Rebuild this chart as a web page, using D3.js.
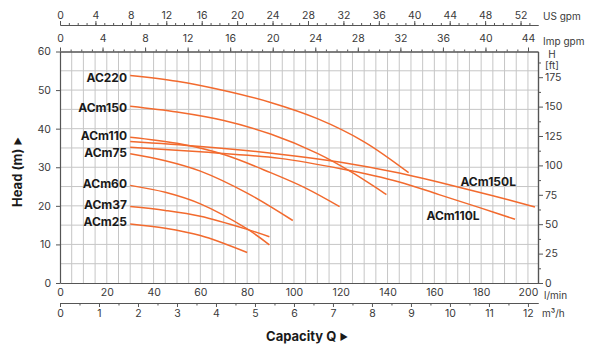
<!DOCTYPE html>
<html>
<head>
<meta charset="utf-8">
<script src="https://cdn.jsdelivr.net/npm/d3@7"></script>
<style>
  body { margin: 0; background: #fff; }
  text { font-family: Inter, "Open Sans", sans-serif; }
</style>
</head>
<body>
<svg id="chart" width="600" height="352"></svg>
<script>
// Courbes débit (l/min) / hauteur (m)
const ac220 = [[30, 53.8], [50, 52.3], [70, 49.9], [90, 46.8], [110, 42.6], [130, 36.6], [149, 28.6]]
const acm150 = [[30, 45.8], [50, 44.3], [70, 42.1], [90, 38.6], [110, 33.6], [125, 28.6], [139.5, 22.9]]
const acm110 = [[30, 37.8], [50, 36.2], [70, 33.3], [90, 28.6], [105, 24.6], [119.5, 19.8]]
const acm75 = [[30, 33.5], [45, 31.7], [60, 29], [80, 23.3], [99.5, 16.2]]
const acm60 = [[30, 25.3], [45, 23.5], [60, 20.5], [80, 14], [89.5, 9.9]]
const acm37 = [[30, 19.8], [45, 18.8], [60, 17.3], [80, 13.9], [89.5, 12]]
const acm25 = [[30, 15.3], [45, 14.2], [60, 12.3], [80, 7.9]]
const acm150L = [[30, 36.7], [60, 35.4], [94, 33.4], [120, 31.3], [145, 28.5], [162, 26.1], [185, 22.6], [203, 19.7]]
const acm110L = [[30, 35.2], [60, 34], [94, 32.3], [120, 29.6], [145, 26.2], [162, 22.9], [180, 19.4], [194.5, 16.5]]

const leftLabels = ['AC220', 'ACm150', 'ACm110', 'ACm75', 'ACm60', 'ACm37', 'ACm25']
const leftLabelHeads = [53.2, 45.5, 38.2, 33.7, 25.7, 20.3, 15.9]
const rightLabels = ['ACm150L', 'ACm110L']
const rightLabelPoints = [[183, 26.2], [168, 17.4]]

const lminTicks = d3.range(0, 201, 20)
const m3hTicks = d3.range(0, 13, 1)
const usTicks = d3.range(0, 53, 4)
const impTicks = d3.range(0, 45, 4)
const headTicks = d3.range(0, 61, 10)
const ftTicks = d3.range(0, 176, 25)

const svg = d3.select('#chart')
const orange = '#f26a2e'
const axisColor = '#555'
const textColor = '#3a3a3a'

const qMax = 204.3
const x = d3.scaleLinear().domain([0, qMax]).range([60, 538])
const y = d3.scaleLinear().domain([0, 60]).range([283, 51.5])
const yFt = d3.scaleLinear().domain([0, 60 * 3.28084]).range([283, 51.5])
const xUs = d3.scaleLinear().domain([0, qMax / 3.78541]).range([60, 538])
const xImp = d3.scaleLinear().domain([0, qMax / 4.54609]).range([60, 538])
const xM3 = d3.scaleLinear().domain([0, qMax * 0.06]).range([60, 538])

// Grille
const grid = svg.append('g').attr('stroke', '#c6c6c6').attr('stroke-width', 1)
grid.selectAll('.v')
  .data(d3.range(5, 205, 5))
  .join('line')
  .attr('x1', d => x(d)).attr('x2', d => x(d))
  .attr('y1', y(0)).attr('y2', y(60))
grid.selectAll('.h')
  .data(d3.range(5, 60, 5))
  .join('line')
  .attr('x1', x(0)).attr('x2', x(qMax))
  .attr('y1', d => y(d)).attr('y2', d => y(d))

// Style commun des axes
function styleAxis (g) {
  g.select('.domain').attr('stroke', axisColor).attr('stroke-width', 1.2)
  g.selectAll('.tick line').attr('stroke', axisColor)
  g.selectAll('.tick text').attr('fill', textColor).style('font-size', '10.5px')
}

// Axe gauche (m)
svg.append('g')
  .attr('transform', `translate(${x(0)},0)`)
  .call(d3.axisLeft(y).tickValues(headTicks).tickSize(4).tickPadding(5).tickSizeOuter(0))
  .call(styleAxis)

// Axe droit (ft)
svg.append('g')
  .attr('transform', `translate(${x(qMax)},0)`)
  .call(d3.axisRight(yFt).tickValues(d3.range(12.5, 190, 25)).tickSize(3).tickFormat('').tickSizeOuter(0))
  .call(styleAxis)
svg.append('g')
  .attr('transform', `translate(${x(qMax)},0)`)
  .call(d3.axisRight(yFt).tickValues(ftTicks).tickSize(5).tickPadding(2).tickSizeOuter(0))
  .call(styleAxis)

// Axe bas (l/min)
svg.append('g')
  .attr('transform', `translate(0,${y(0)})`)
  .call(d3.axisBottom(x).tickValues(lminTicks).tickSize(0).tickPadding(6).tickSizeOuter(0))
  .call(styleAxis)

// Axe m3/h
svg.append('g')
  .attr('transform', 'translate(0,303)')
  .call(d3.axisBottom(xM3).tickValues(d3.range(0.5, 12.3, 1)).tickSize(2.5).tickFormat('').tickSizeOuter(0))
  .call(styleAxis)
svg.append('g')
  .attr('transform', 'translate(0,303)')
  .call(d3.axisBottom(xM3).tickValues(m3hTicks).tickSize(4).tickPadding(3).tickSizeOuter(0))
  .call(styleAxis)

// Axe US gpm
svg.append('g')
  .attr('transform', 'translate(0,25)')
  .call(d3.axisTop(xUs).tickValues(d3.range(0, 54, 1)).tickSize(2).tickFormat('').tickSizeOuter(0))
  .call(styleAxis)
svg.append('g')
  .attr('transform', 'translate(0,25)')
  .call(d3.axisTop(xUs).tickValues(usTicks).tickSize(4).tickPadding(2.5).tickSizeOuter(0))
  .call(styleAxis)

// Axe Imp gpm (haut du cadre)
svg.append('g')
  .attr('transform', `translate(0,${y(60)})`)
  .call(d3.axisTop(xImp).tickValues(d3.range(0, 45, 1)).tickSize(2).tickFormat('').tickSizeOuter(0))
  .call(styleAxis)
svg.append('g')
  .attr('transform', `translate(0,${y(60)})`)
  .call(d3.axisTop(xImp).tickValues(impTicks).tickSize(4).tickPadding(5.5).tickSizeOuter(0))
  .call(styleAxis)

// Unités
const units = svg.append('g').attr('fill', textColor).style('font-size', '10px')
units.append('text').attr('x', 543).attr('y', 19.5).text('US gpm')
units.append('text').attr('x', 543).attr('y', 45).text('Imp gpm')
units.append('text').attr('x', 552).attr('y', 58).attr('text-anchor', 'middle').text('H')
units.append('text').attr('x', 552).attr('y', 68.5).attr('text-anchor', 'middle').text('[ft]')
units.append('text').attr('x', 544).attr('y', 299).text('l/min')
units.append('text').attr('x', 542).attr('y', 317).text('m³/h')

// Courbes
const curves = [ac220, acm150, acm110, acm75, acm60, acm37, acm25, acm150L, acm110L]
const line = d3.line()
  .x(d => x(d[0]))
  .y(d => y(d[1]))
  .curve(d3.curveCatmullRom.alpha(0.5))

svg.append('g')
  .selectAll('path')
  .data(curves)
  .join('path')
  .attr('d', line)
  .attr('fill', 'none')
  .attr('stroke', orange)
  .attr('stroke-width', 1.5)

// Étiquettes des modèles
svg.append('g')
  .selectAll('text')
  .data(leftLabels)
  .join('text')
  .attr('x', 127)
  .attr('y', (d, i) => y(leftLabelHeads[i]))
  .attr('dy', '0.35em')
  .attr('text-anchor', 'end')
  .attr('fill', '#1a1a1a')
  .style('font-size', '12px')
  .style('font-weight', 'bold')
  .text(d => d)

svg.append('g')
  .selectAll('text')
  .data(rightLabels)
  .join('text')
  .attr('x', (d, i) => x(rightLabelPoints[i][0]))
  .attr('y', (d, i) => y(rightLabelPoints[i][1]))
  .attr('dy', '0.35em')
  .attr('text-anchor', 'middle')
  .attr('fill', '#1a1a1a')
  .style('font-size', '12px')
  .style('font-weight', 'bold')
  .text(d => d)

// Titres des axes
const headTitle = svg.append('text')
  .attr('transform', 'translate(22,172) rotate(-90)')
  .attr('text-anchor', 'middle')
  .attr('fill', '#1a1a1a')
  .style('font-size', '13px')
  .style('font-weight', 'bold')
headTitle.append('tspan').text('Head (m)  ')
headTitle.append('tspan').style('font-size', '9px').attr('dy', '-1').text('\u25BA')

const capTitle = svg.append('text')
  .attr('x', 307)
  .attr('y', 341)
  .attr('text-anchor', 'middle')
  .attr('fill', '#1a1a1a')
  .style('font-size', '13px')
  .style('font-weight', 'bold')
capTitle.append('tspan').text('Capacity Q  ')
capTitle.append('tspan').style('font-size', '9px').attr('dy', '-1').text('\u25BA')
</script>
</body>
</html>
